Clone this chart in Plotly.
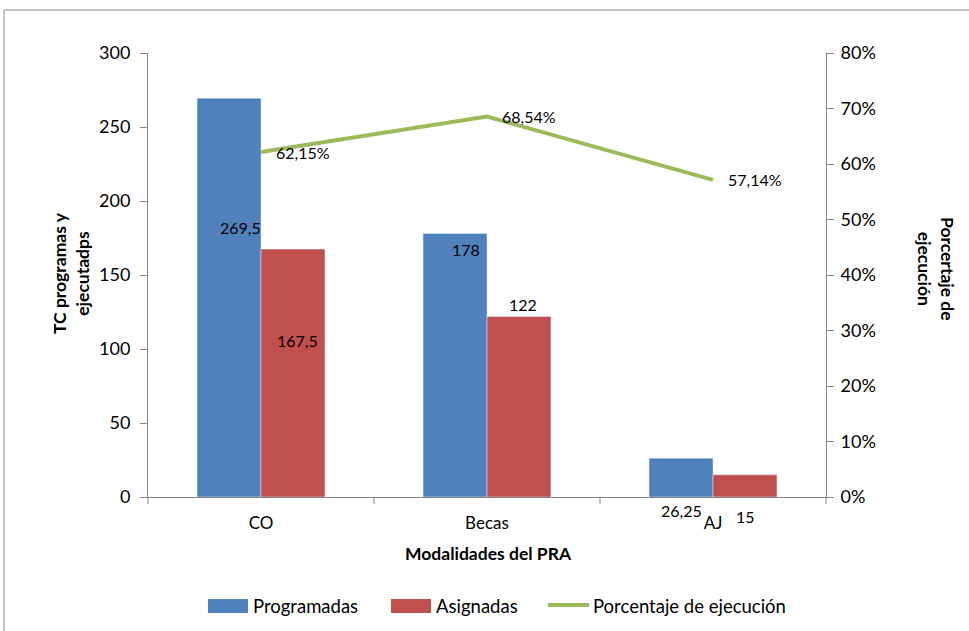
import plotly.graph_objects as go

# Datos
categorias = ["CO", "Becas", "AJ"]
programadas = [269.5, 178, 26.25]
asignadas = [167.5, 122, 15]
porcentaje = [0.6215, 0.6854, 0.5714]

etiq_prog = ["269,5", "178", "26,25"]
etiq_asig = ["167,5", "122", "15"]
etiq_pct = ["62,15%", "68,54%", "57,14%"]

izq_ticks = [0, 50, 100, 150, 200, 250, 300]
der_ticks = [0, 0.1, 0.2, 0.3, 0.4, 0.5, 0.6, 0.7, 0.8]
der_text = ["0%", "10%", "20%", "30%", "40%", "50%", "60%", "70%", "80%"]

series = ["Programadas", "Asignadas", "Porcentaje de ejecución"]

AZUL = "#4F81BD"
ROJO = "#C0504D"
VERDE = "#9BBB59"
GRIS = "#868686"
FUENTE = "Lato"

# Geometría del área de trazado (px)
W, H = 969, 631
ML, MR, MT, MB = 148, 143, 53, 134
PW, PH = W - ML - MR, H - MT - MB


def px(x):
    return (x - ML) / PW


def py(y):
    return (H - MB - y) / PH


# Altura relativa (fracción del eje izquierdo) de cada etiqueta de barra
pos_prog = [0.607, 0.557, -0.03]
pos_asig = [0.352, 0.433, -0.043]

fig = go.Figure()
fig.add_trace(go.Bar(x=categorias, y=programadas, name=series[0],
                     marker=dict(color=AZUL), yaxis="y"))
fig.add_trace(go.Bar(x=categorias, y=asignadas, name=series[1],
                     marker=dict(color=ROJO), yaxis="y"))
fig.add_trace(go.Scatter(x=categorias, y=porcentaje, name=series[2],
                         mode="lines", line=dict(color=VERDE, width=4), yaxis="y2"))

lbl = dict(size=16, color="black", family=FUENTE)
anots = []
for c, t, p in zip(categorias, etiq_prog, pos_prog):
    anots.append(dict(x=c, y=p, xref="x", yref="paper", text=t, showarrow=False,
                      xanchor="center", yanchor="middle",
                      xshift=-21 if c != "AJ" else -32, font=lbl))
for c, t, p in zip(categorias, etiq_asig, pos_asig):
    anots.append(dict(x=c, y=p, xref="x", yref="paper", text=t, showarrow=False,
                      xanchor="center", yanchor="middle",
                      xshift=36 if c != "AJ" else 32, font=lbl))
for c, t, p in zip(categorias, etiq_pct, porcentaje):
    anots.append(dict(x=c, y=p, xref="x", yref="y2", text=t, showarrow=False,
                      xanchor="left", yanchor="middle", xshift=13, font=lbl))

# Títulos de ejes
tit = dict(size=17.5, color="black", family=FUENTE)
anots.append(dict(x=px(71), y=py(273), xref="paper", yref="paper",
                  xanchor="center", yanchor="middle",
                  text="<b>TC programas y<br>ejecutadps</b>", showarrow=False,
                  textangle=-90, font=tit))
anots.append(dict(x=px(936), y=py(269), xref="paper", yref="paper",
                  xanchor="center", yanchor="middle",
                  text="<b>Porcertaje de<br>ejecución</b>", showarrow=False,
                  textangle=90, font=tit))
anots.append(dict(x=px(488), y=py(553), xref="paper", yref="paper",
                  xanchor="center", yanchor="middle",
                  text="<b>Modalidades del PRA</b>", showarrow=False, font=tit))

# Leyenda dibujada a mano (muestras rectangulares como en Excel)
ley_x = [208, 391, 548]
shapes = []
for i, (nombre, x0) in enumerate(zip(series, ley_x)):
    if i < 2:
        shapes.append(dict(type="rect", xref="paper", yref="paper",
                           x0=px(x0), x1=px(x0 + 40), y0=py(613), y1=py(599),
                           fillcolor=[AZUL, ROJO][i], line=dict(width=0)))
    else:
        shapes.append(dict(type="line", xref="paper", yref="paper",
                           x0=px(x0), x1=px(x0 + 41), y0=py(605), y1=py(605),
                           line=dict(color=VERDE, width=4)))
    anots.append(dict(x=px(x0 + 43), y=py(606), xref="paper", yref="paper",
                      xanchor="left", yanchor="middle", text=nombre,
                      showarrow=False, font=dict(size=18.5, color="black", family=FUENTE)))

# Marcas de separación entre categorías
for f in (0, 1 / 3, 2 / 3, 1):
    shapes.append(dict(type="line", xref="paper", yref="paper", x0=f, x1=f,
                       y0=0, y1=py(504), line=dict(color=GRIS, width=1)))
# Marco exterior
shapes.append(dict(type="rect", xref="paper", yref="paper", x0=px(4), x1=px(990),
                   y0=py(660), y1=py(10), line=dict(color=GRIS, width=1)))

tf = dict(size=18, family=FUENTE, color="black")
fig.update_layout(
    width=W, height=H,
    margin=dict(l=ML, r=MR, t=MT, b=MB),
    paper_bgcolor="white", plot_bgcolor="white",
    font=dict(family=FUENTE, size=15, color="black"),
    barmode="group", bargap=0.434, bargroupgap=0,
    annotations=anots, shapes=shapes,
    showlegend=False,
    xaxis=dict(showline=True, linecolor=GRIS, linewidth=1, ticks="",
               showgrid=False, tickfont=dict(size=17, family=FUENTE, color="black"),
               ticklabelstandoff=11),
    yaxis=dict(range=[0, 300], tickvals=izq_ticks, showline=True, linecolor=GRIS,
               ticks="outside", tickcolor=GRIS, ticklen=7, showgrid=False,
               zeroline=False, tickfont=tf, ticklabelstandoff=6),
    yaxis2=dict(range=[0, 0.8], tickvals=der_ticks, ticktext=der_text, overlaying="y",
                side="right", showline=True, linecolor=GRIS, ticks="outside",
                tickcolor=GRIS, ticklen=7, showgrid=False, zeroline=False,
                tickfont=tf, ticklabelstandoff=3),
)

fig.write_html("out.html")
